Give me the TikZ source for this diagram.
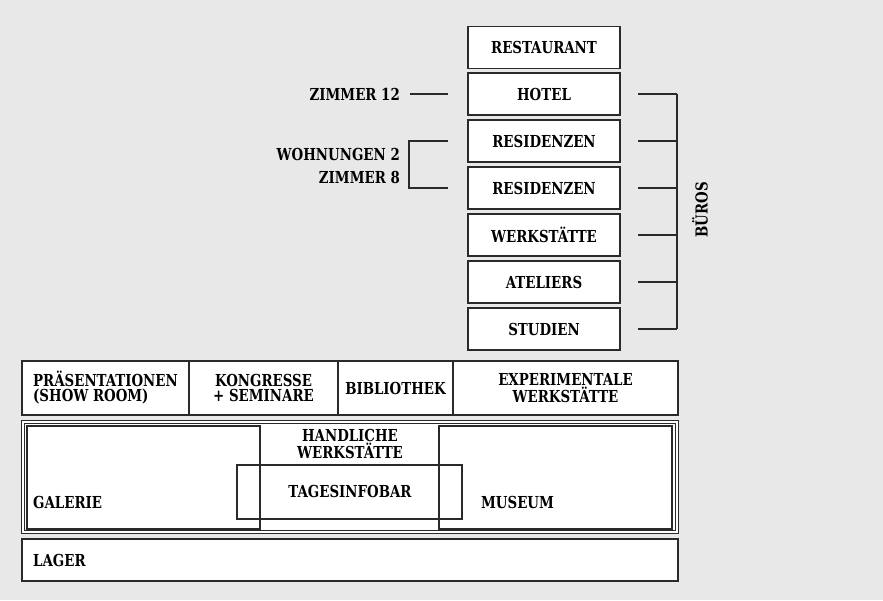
\documentclass[tikz,border=0pt]{standalone}
\usepackage{fontspec}
\setmainfont{DejaVu Serif Condensed}[FakeStretch=0.9]
\definecolor{bg}{HTML}{E8E8E8}
\definecolor{lc}{HTML}{2A2A2A}
\newcommand{\lbl}{\fontsize{16.5}{15}\selectfont\bfseries}
\begin{document}
\begin{tikzpicture}[x=1pt,y=-1pt,
  every node/.style={text=black},
  tbox/.style={draw=lc, fill=white, line width=1.3pt, minimum width=152pt, minimum height=42pt, inner sep=0pt, font=\lbl},
  cell/.style={draw=lc, fill=white, line width=1.3pt, minimum height=54pt, inner sep=0pt, font=\lbl, align=center},
  area/.style={draw=lc, line width=1.1pt, inner sep=0pt},
  conn/.style={draw=lc, line width=1.1pt},
  lab/.style={font=\lbl, inner sep=0pt, align=right}]
\fill[bg] (0,0) rectangle (883,600);
\useasboundingbox (0,0) rectangle (883,600);
% tower
\node[tbox] (rest) at (544,47.5) {RESTAURANT};
\node[tbox] (hotel) at (544,94) {HOTEL};
\node[tbox] (res1) at (544,141) {RESIDENZEN};
\node[tbox] (res2) at (544,188) {RESIDENZEN};
\node[tbox] (werk) at (544,235) {WERKSTÄTTE};
\node[tbox] (atel) at (544,282) {ATELIERS};
\node[tbox] (stud) at (544,329) {STUDIEN};
% left labels
\node[lab, anchor=east] (z12) at (400,94) {ZIMMER 12};
\draw[conn] ([xshift=10pt]z12.east) -- ([xshift=-19pt]hotel.west);
\node[lab, anchor=east] (wohn) at (400,166) {WOHNUNGEN 2\\[8pt]ZIMMER 8};
\coordinate (lb) at (409,0);
\draw[conn] ([xshift=-19pt]res1.west) -| (lb |- res2) -- ([xshift=-19pt]res2.west);
% right bracket
\coordinate (rb) at (677,0);
\foreach \n in {hotel,res1,res2,werk,atel,stud}
  \draw[conn] ([xshift=17pt]\n.east) -- (rb |- \n);
\draw[conn] (rb |- hotel) -- (rb |- stud);
\node[font=\lbl, rotate=90, inner sep=0pt] (bueros) at (700,210) {BÜROS};
% row of rooms
\node[cell, minimum width=167pt, align=left] (pres) at (105.5,388) {PRÄSENTATIONEN\\(SHOW ROOM)};
\node[cell, minimum width=149pt] (kong) at (263.5,388) {KONGRESSE\\+ SEMINARE};
\node[cell, minimum width=115pt] (bib) at (395.5,388) {BIBLIOTHEK};
\node[cell, minimum width=225pt] (exp) at (565.5,388) {EXPERIMENTALE\\WERKSTÄTTE};
% middle block
\node[draw=lc, fill=white, line width=0.9pt, double=white, double distance=1.6pt, minimum width=654pt, minimum height=110pt, inner sep=0pt] (mid) at (350,477) {};
\node[area, minimum width=233pt, minimum height=103pt] (gal) at (143.5,477.5) {};
\node[area, minimum width=233pt, minimum height=103pt] (mus) at (555.5,477.5) {};
\node[area, minimum width=225pt, minimum height=54pt] (tag) at (349.5,492) {};
\node[font=\lbl, align=center, inner sep=0pt] (hand) at (350,444) {HANDLICHE\\WERKSTÄTTE};
\node[font=\lbl, inner sep=0pt] (tagl) at (350,491) {TAGESINFOBAR};
\node[font=\lbl, inner sep=0pt, anchor=west] (gall) at (33,502) {GALERIE};
\node[font=\lbl, inner sep=0pt, anchor=west] (musl) at (481,502) {MUSEUM};
% lager
\node[cell, minimum width=656pt, minimum height=42pt] (lager) at (350,560) {};
\node[font=\lbl, inner sep=0pt, anchor=west] (lagl) at (33,560) {LAGER};
\end{tikzpicture}
\end{document}
